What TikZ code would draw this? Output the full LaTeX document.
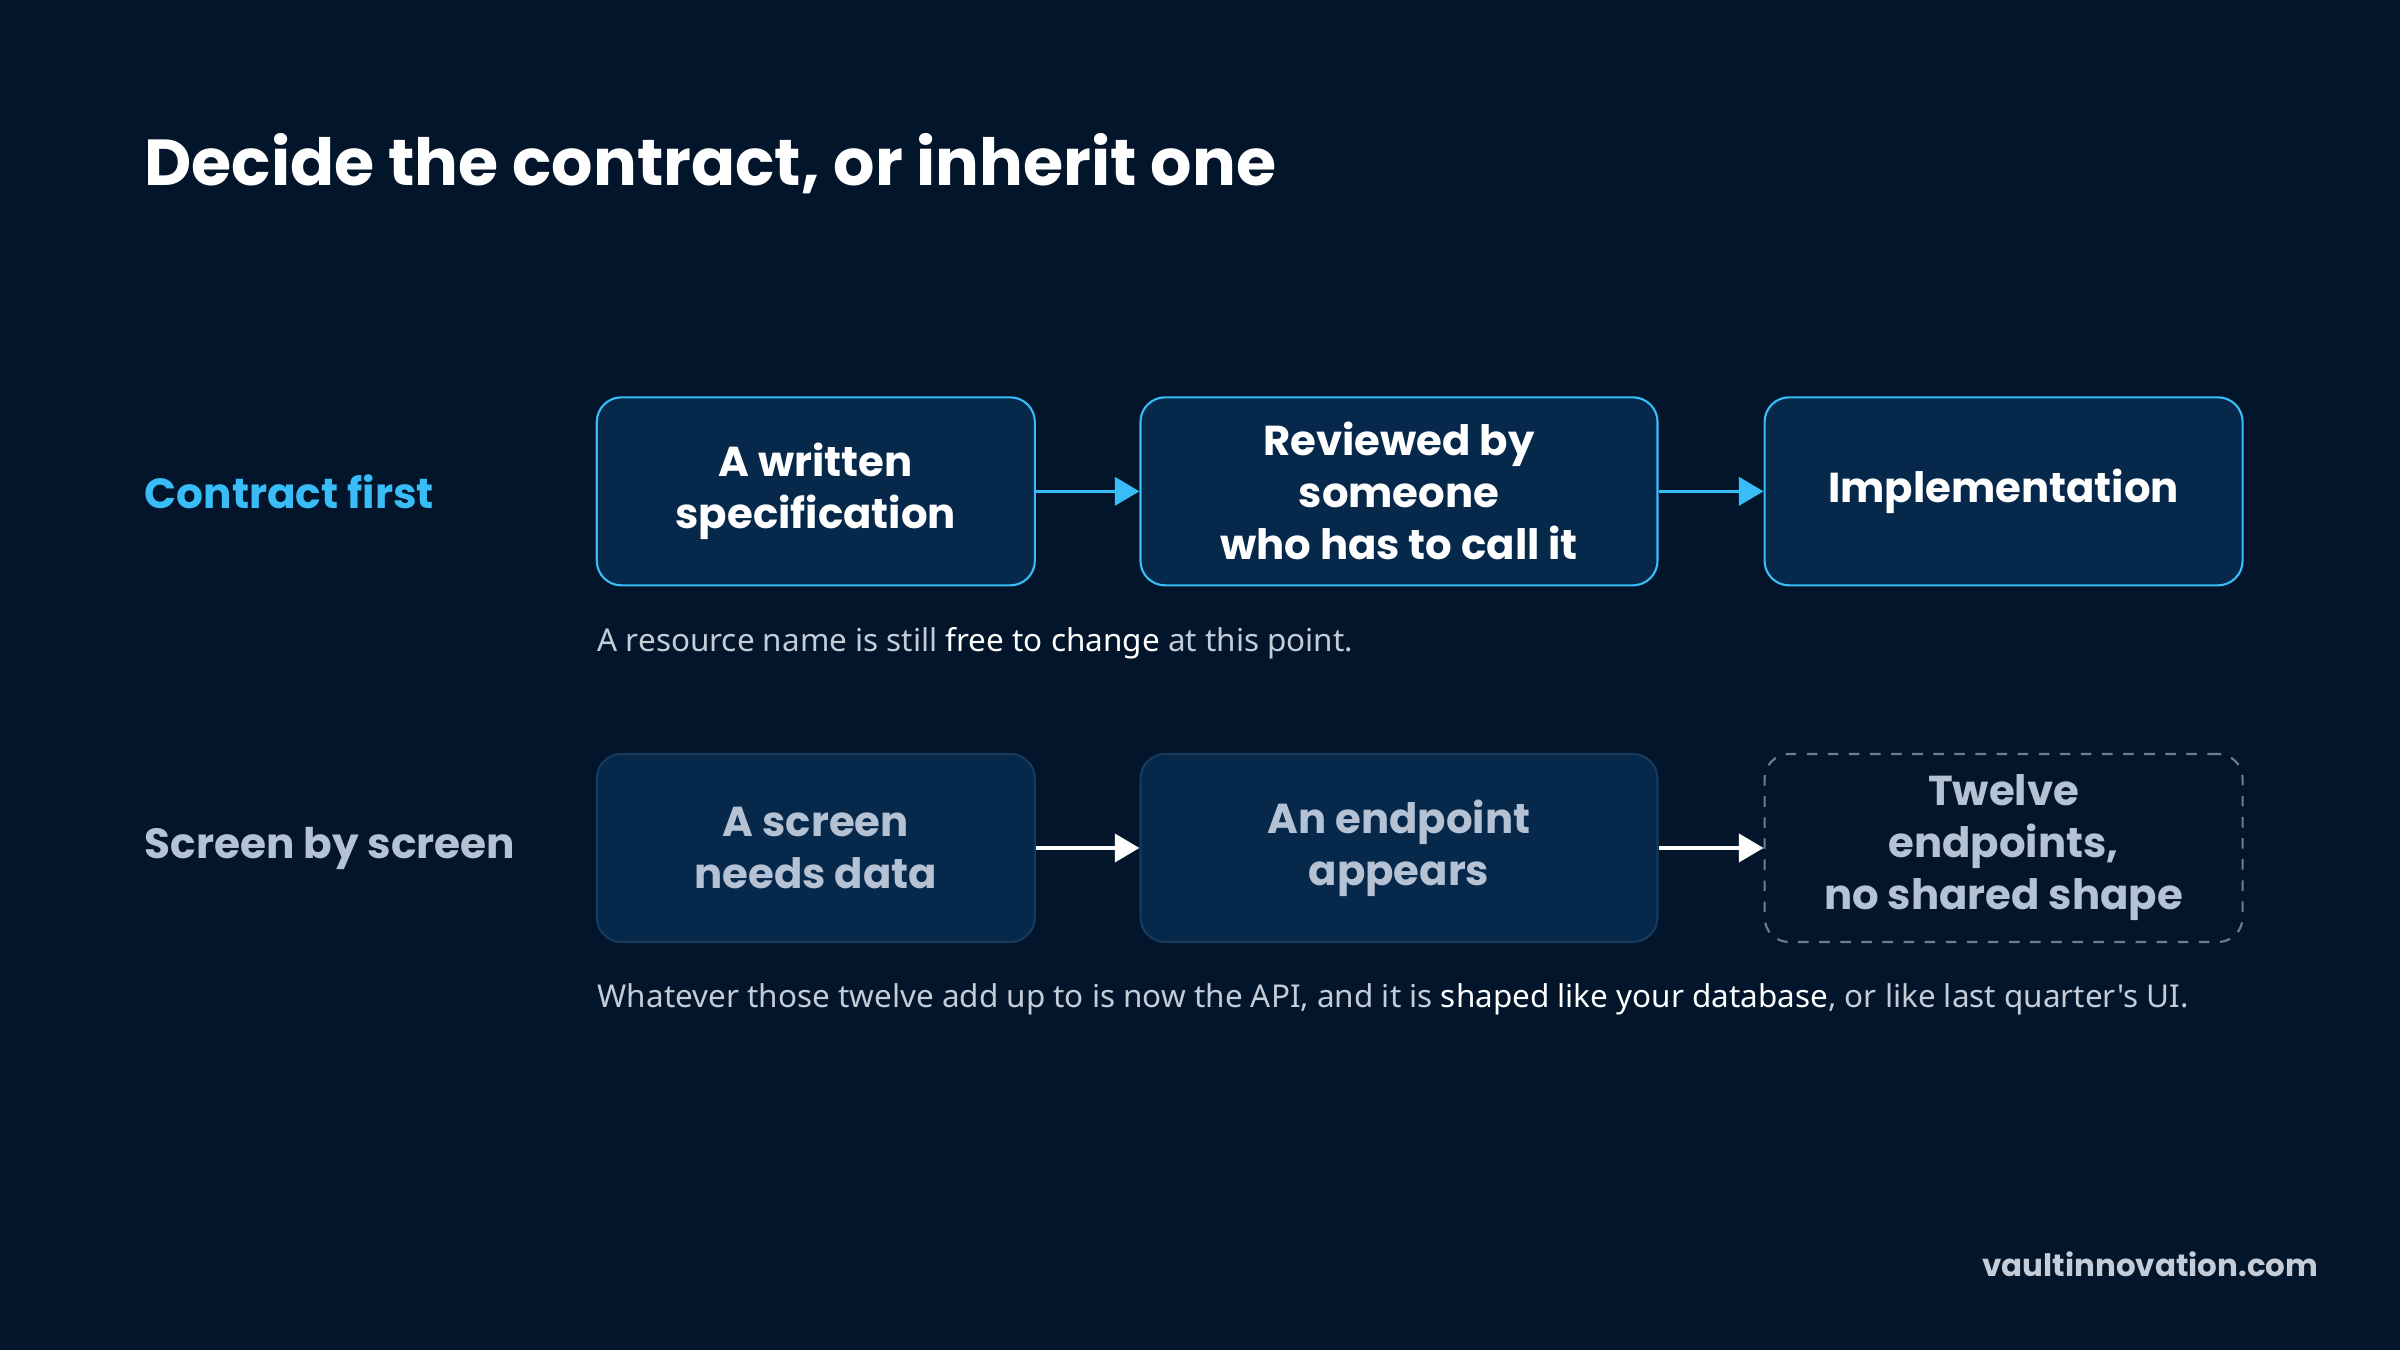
\documentclass[tikz,border=0pt]{standalone}
\usepackage{fontspec}
\setmainfont{Poppins}
\newfontfamily\bodyfont{Noto Sans}
\usetikzlibrary{positioning,arrows.meta}
\definecolor{bgnavy}{HTML}{02152A}
\definecolor{boxfill}{HTML}{06284A}
\definecolor{accent}{HTML}{38BDF8}
\definecolor{mutedtext}{HTML}{B4C2D4}
\definecolor{captext}{HTML}{C4CCD8}
\definecolor{dimborder}{HTML}{163A5E}
\definecolor{dashborder}{HTML}{6E7E92}
\tikzset{
  stage/.style={draw=accent,fill=boxfill,rounded corners=7pt,line width=0.6pt,
    minimum height=1.88cm,align=center,text=white,font=\fontsize{11.9}{14.8}\selectfont\bfseries,inner sep=2pt},
  oldstage/.style={stage,draw=dimborder,text=mutedtext},
  loosestage/.style={stage,draw=dashborder,fill=none,dashed,text=mutedtext},
  flow/.style={-{Triangle[length=7pt,width=8pt]},line width=1pt,draw=accent},
  oldflow/.style={flow,draw=white},
  rowlabel/.style={anchor=west,font=\fontsize{12}{14}\selectfont\bfseries},
  note/.style={anchor=west,text=captext,font=\bodyfont\fontsize{8.95}{11}\selectfont,inner sep=0pt}
}
\newcommand{\hl}[1]{{\bodyfont\bfseries\color{white}#1}}
\begin{document}
\begin{tikzpicture}[x=0.015306cm,y=-0.015306cm]
\fill[bgnavy] (0,0) rectangle (1568,882);
\useasboundingbox (0,0) rectangle (1568,882);
\node[anchor=base west,text=white,font=\fontsize{18.5}{22}\selectfont\bfseries,inner sep=0pt] (title) at (94,121) {Decide the contract, or inherit one};
% contract first
\node[rowlabel,text=accent,inner sep=0pt] (first) at (94,321) {Contract first};
\node[stage,minimum width=4.38cm] (spec) at (533,321) {A written\\specification};
\node[stage,minimum width=5.17cm] (review) at (914,321) {Reviewed by\\someone\\who has to call it};
\node[stage,minimum width=4.78cm] (impl) at (1309,321) {Implementation};
\draw[flow] (spec) -- (review);
\draw[flow] (review) -- (impl);
\node[note] (firstnote) at (390,420) {A resource name is still \hl{free to change} at this point.};
% screen by screen
\node[rowlabel,text=mutedtext,inner sep=0pt] (screens) at (94,554) {Screen by screen};
\node[oldstage,minimum width=4.38cm] (need) at (533,554) {A screen\\needs data};
\node[oldstage,minimum width=5.17cm] (endpoint) at (914,554) {An endpoint\\appears};
\node[loosestage,minimum width=4.78cm] (twelve) at (1309,554) {Twelve\\endpoints,\\no shared shape};
\draw[oldflow] (need) -- (endpoint);
\draw[oldflow] (endpoint) -- (twelve);
\node[note] (screennote) at (390,653) {Whatever those twelve add up to is now the API, and it is \hl{shaped like your database}, or like last quarter's UI.};
\node[anchor=east,text=captext,font=\fontsize{8.8}{11}\selectfont\bfseries,inner sep=0pt] (site) at (1515,826) {vaultinnovation.com};
\end{tikzpicture}
\end{document}
